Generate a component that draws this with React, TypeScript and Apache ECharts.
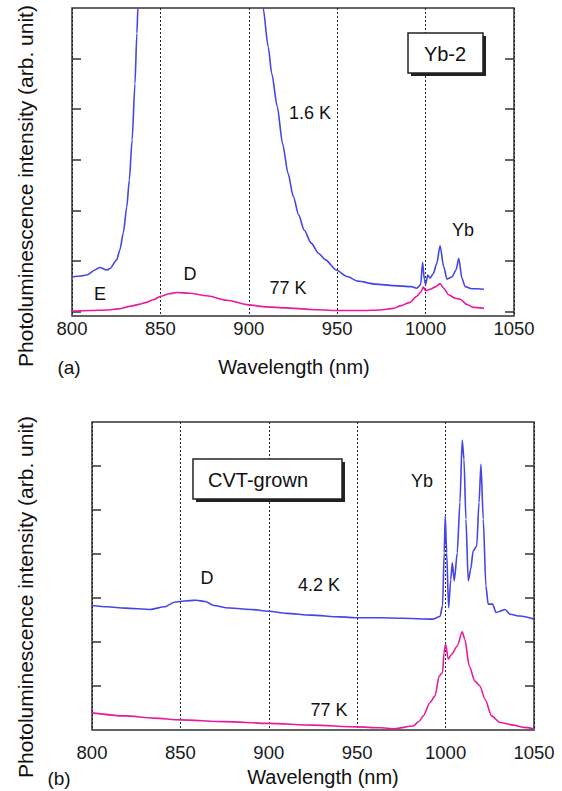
import React, { useEffect, useRef } from "react";
import * as echarts from "echarts";

const FONT = '"Liberation Sans", Arial, Helvetica, sans-serif';
const BLUE = "#4646e6";
const MAGENTA = "#e61c9e";

const xTicks = [800, 850, 900, 950, 1000, 1050];

// Panel (a) — 1.6 K
const topBlueWl = [800, 805, 808.3, 813, 815.8, 819.6, 821.5, 825.3, 827.1, 829, 831, 832.4, 834, 835.6, 836.7, 837.3, 838.5, 840, 850, 870, 890, 900, 904, 906, 908, 911, 913, 916.1, 919.1, 922.2, 925.2, 928.2, 931.3, 935.3, 939.4, 943.4, 949.5, 955.6, 961.7, 971.8, 981.9, 992.1, 995, 997.2, 998.3, 999.3, 1000, 1001.2, 1002.5, 1004.4, 1006.3, 1008.2, 1010.2, 1012.1, 1014.9, 1017.2, 1018.8, 1020.5, 1022.4, 1026.1, 1029.5, 1033];
const topBlueVal = [0.68, 0.70, 0.72, 0.82, 0.87, 0.82, 0.85, 1.02, 1.22, 1.55, 2.07, 2.6, 3.39, 4.5, 5.5, 6.02, 7.5, 10, 20, 25, 20, 12, 8.5, 7, 6.02, 5.23, 4.70, 4.05, 3.32, 2.73, 2.27, 1.91, 1.61, 1.35, 1.15, 1.02, 0.82, 0.69, 0.60, 0.54, 0.51, 0.49, 0.46, 0.53, 0.97, 0.63, 0.53, 0.72, 0.66, 0.75, 0.95, 1.30, 0.89, 0.64, 0.68, 0.82, 1.05, 0.66, 0.49, 0.45, 0.45, 0.44];

// Panel (a) — 77 K
const topPinkWl = [800, 810, 819.6, 826, 832.8, 838, 842.2, 846, 850.2, 855, 859.2, 866.7, 876.2, 887.5, 900, 910, 921, 935, 950, 965, 974, 982, 985.5, 991.2, 995, 997.2, 998.7, 1000, 1002.5, 1005.3, 1008.2, 1010.2, 1013, 1016.8, 1019.6, 1023.3, 1027, 1033];
const topPinkVal = [0.01, 0.02, 0.03, 0.05, 0.10, 0.14, 0.18, 0.23, 0.30, 0.35, 0.375, 0.36, 0.31, 0.22, 0.13, 0.09, 0.07, 0.04, 0.02, 0.02, 0.03, 0.06, 0.11, 0.18, 0.30, 0.38, 0.48, 0.41, 0.44, 0.48, 0.55, 0.46, 0.33, 0.26, 0.24, 0.14, 0.08, 0.06];

// Panel (b) — 4.2 K
const botBlueWl = [800, 808.5, 818.7, 832.9, 841, 847, 850, 855, 859, 864, 869, 875.5, 889.7, 899.8, 910, 924, 940, 950.6, 962.8, 975, 993, 996.8, 998.3, 999.2, 999.8, 1000.6, 1001.7, 1002.9, 1003.8, 1004.9, 1006.6, 1008.1, 1009.4, 1010.4, 1011.5, 1012.8, 1014.2, 1015.6, 1017.6, 1018.9, 1020, 1021.3, 1022.8, 1024.1, 1026.6, 1028.5, 1030.8, 1033.6, 1036.4, 1042.1, 1050];
const botBlueVal = [2.83, 2.80, 2.77, 2.74, 2.80, 2.91, 2.92, 2.94, 2.95, 2.92, 2.83, 2.78, 2.74, 2.70, 2.65, 2.61, 2.57, 2.55, 2.55, 2.54, 2.52, 2.58, 2.82, 4.03, 4.86, 4.03, 2.78, 3.42, 3.80, 3.39, 4.03, 5.17, 6.59, 6.15, 4.79, 3.39, 3.65, 4.07, 4.18, 5.17, 6.04, 4.79, 3.27, 2.86, 2.86, 2.67, 2.70, 2.74, 2.63, 2.59, 2.52];

// Panel (b) — 77 K
const botPinkWl = [800, 818.7, 835, 850, 875, 900, 925, 950, 962.8, 971, 981.7, 985, 987.4, 991.1, 994, 996.4, 998.3, 999.1, 1000, 1001.5, 1003.4, 1006.6, 1009.4, 1010.9, 1013.4, 1016.6, 1019.4, 1022.3, 1026, 1030.8, 1038.3, 1044, 1050];
const botPinkVal = [0.39, 0.32, 0.27, 0.23, 0.19, 0.15, 0.11, 0.07, 0.05, 0.03, 0.09, 0.2, 0.32, 0.62, 0.77, 1.23, 1.30, 1.76, 1.95, 1.61, 1.72, 1.91, 2.23, 2.06, 1.45, 1.11, 1.00, 0.70, 0.32, 0.17, 0.11, 0.06, 0.03];

const topYTicks = [0, 1, 2, 3, 4, 5];
const botYTicks = [1, 2, 3, 4, 5, 6];

const yTitle = "Photoluminescence intensity (arb. unit)";
const xTitle = "Wavelength (nm)";

const zip = (a: number[], b: number[]) => a.map((x, i) => [x, b[i]]);

export default function App() {
  const ref = useRef<HTMLDivElement>(null);
  useEffect(() => {
    if (!ref.current) return;
    const chart = echarts.init(ref.current, null, { renderer: "svg" });

    const xAxisBase = (gridIndex: number, margin: number) => ({
      type: "value",
      gridIndex,
      min: xTicks[0],
      max: xTicks[xTicks.length - 1],
      interval: 50,
      axisLine: { show: false },
      axisTick: { show: false },
      axisLabel: {
        fontSize: 18.5,
        color: "#1a1a1a",
        fontFamily: FONT,
        margin,
        formatter: (v: number) => String(v),
      },
      splitLine: { show: true, lineStyle: { type: [2, 2], color: "#222", width: 1 } },
    });

    const yAxisBase = (gridIndex: number, position: string, min: number, max: number, ticks: number[]) => ({
      type: "value",
      gridIndex,
      position,
      min,
      max,
      axisLine: { show: false },
      axisLabel: { show: false },
      splitLine: { show: false },
      axisTick: {
        show: true,
        inside: true,
        length: 9,
        customValues: ticks,
        lineStyle: { color: "#333", width: 1.5 },
      },
    });

    const line = (data: number[][], color: string, xi: number, yi: number) => ({
      type: "line",
      data,
      xAxisIndex: xi,
      yAxisIndex: yi,
      showSymbol: false,
      smooth: 0.25,
      smoothMonotone: "x",
      clip: true,
      lineStyle: { color, width: 1.6 },
      itemStyle: { color },
    });

    const txt = (x: number, y: number, text: string, fontSize = 18, extra: any = {}) => ({
      type: "text",
      x,
      y,
      z: 100,
      ...extra,
      style: {
        text,
        fontSize,
        fontFamily: FONT,
        fill: "#111",
        align: "center",
        verticalAlign: "middle",
        ...(extra.style || {}),
      },
    });

    const box = (x: number, y: number, w: number, h: number) => [
      { type: "rect", z: 90, shape: { x: x + 3, y: y + 3, width: w, height: h }, style: { fill: "#222" } },
      { type: "rect", z: 91, shape: { x, y, width: w, height: h }, style: { fill: "#fff", stroke: "#222", lineWidth: 1.5 } },
    ];

    chart.setOption({
      animation: false,
      backgroundColor: "#fff",
      grid: [
        { left: 72, top: 8, width: 442, height: 308, show: true, borderColor: "#333", borderWidth: 1.5, backgroundColor: "transparent" },
        { left: 92, top: 422, width: 442, height: 308, show: true, borderColor: "#333", borderWidth: 1.5, backgroundColor: "transparent" },
      ],
      xAxis: [xAxisBase(0, 3), xAxisBase(1, 13)],
      yAxis: [
        yAxisBase(0, "left", -0.09, 6, topYTicks),
        yAxisBase(0, "right", -0.09, 6, topYTicks),
        yAxisBase(1, "left", 0, 7, botYTicks),
        yAxisBase(1, "right", 0, 7, botYTicks),
      ],
      series: [
        line(zip(topBlueWl, topBlueVal), BLUE, 0, 0),
        line(zip(topPinkWl, topPinkVal), MAGENTA, 0, 0),
        line(zip(botBlueWl, botBlueVal), BLUE, 1, 2),
        line(zip(botPinkWl, botPinkVal), MAGENTA, 1, 2),
      ],
      graphic: [
        ...box(408, 33, 75, 40),
        txt(445, 54, "Yb-2", 20),
        txt(310, 113, "1.6 K"),
        txt(288, 288, "77 K"),
        txt(190, 274, "D"),
        txt(100, 294, "E"),
        txt(463, 230, "Yb"),
        txt(69, 367, "(a)", 19),
        txt(294, 367, xTitle, 20),
        txt(25, 186, yTitle, 21, { rotation: Math.PI / 2 }),
        ...box(193, 459, 149, 40),
        txt(258, 480, "CVT-grown", 20),
        txt(422, 481, "Yb"),
        txt(207, 578, "D"),
        txt(319, 585, "4.2 K"),
        txt(329, 710, "77 K"),
        txt(59, 778, "(b)", 19),
        txt(323, 777, xTitle, 20),
        txt(25, 597, yTitle, 21, { rotation: Math.PI / 2 }),
      ],
    });
    return () => chart.dispose();
  }, []);
  return (
    <div
      ref={ref}
      style={{ position: "absolute", left: 0, top: 0, width: 562, height: 791, background: "#fff" }}
    />
  );
}
